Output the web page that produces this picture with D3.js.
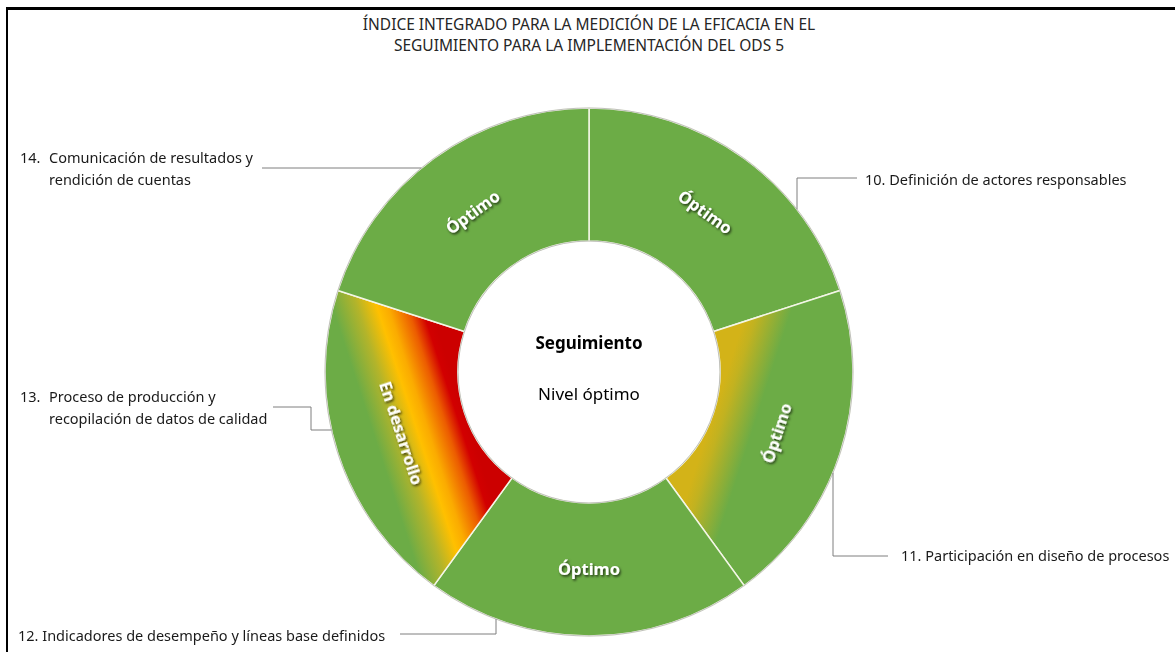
<!DOCTYPE html>
<html>
<head>
<meta charset="utf-8">
<script src="https://cdn.jsdelivr.net/npm/d3@7"></script>
<style>
  body { margin: 0; background: #fff; }
  text { font-family: "Noto Sans", sans-serif; }
</style>
</head>
<body>
<svg width="1175" height="652"></svg>
<script>
// data
var categories = [
  "10. Definición de actores responsables",
  "11. Participación en diseño de procesos",
  "12. Indicadores de desempeño y líneas base definidos",
  "13. Proceso de producción y\nrecopilación de datos de calidad",
  "14. Comunicación de resultados y\nrendición de cuentas"
];
var values = [1, 1, 1, 1, 1];
var levels = ["Óptimo", "Óptimo", "Óptimo", "En desarrollo", "Óptimo"];
var titleLines = [
  "ÍNDICE INTEGRADO PARA LA MEDICIÓN DE LA EFICACIA EN EL",
  "SEGUIMIENTO PARA LA IMPLEMENTACIÓN DEL ODS 5"
];
var centerTitle = "Seguimiento";
var centerSub = "Nivel óptimo";

var svg = d3.select("svg"),
    width = +svg.attr("width"),
    height = +svg.attr("height");

var cx = 589, cy = 372, R = 264, r = 131;
var green = "#6cac46";

// frame
svg.append("line").attr("x1", 6).attr("x2", width).attr("y1", 8.5).attr("y2", 8.5)
    .attr("stroke", "#000").attr("stroke-width", 3);
svg.append("line").attr("x1", 7).attr("x2", 7).attr("y1", 7).attr("y2", height)
    .attr("stroke", "#000").attr("stroke-width", 2);

// title
svg.append("g").selectAll("text")
  .data(titleLines)
  .enter().append("text")
    .attr("x", 589)
    .attr("y", function(d, i) { return 30 + i * 21; })
    .attr("text-anchor", "middle")
    .attr("font-size", "15.5px")
    .attr("fill", "#262626")
    .text(function(d) { return d; });

var pie = d3.pie().sort(null).value(function(d) { return d; });
var arcs = pie(values);
var arc = d3.arc().innerRadius(r).outerRadius(R);

var defs = svg.append("defs");
defs.append("filter").attr("id", "shadow")
    .attr("x", "-30%").attr("y", "-30%").attr("width", "160%").attr("height", "160%")
  .append("feDropShadow")
    .attr("dx", 1.3).attr("dy", 1.6).attr("stdDeviation", 1.2)
    .attr("flood-color", "#000").attr("flood-opacity", 0.7);

// colour ramps for the mixed segments (index -> direction + stops)
var tints = {
  1: { from: "inner", stops: [[0, "#d3b318"], [0.08, "#c2b220"], [0.32, green], [1, green]] },
  3: { from: "outer", stops: [[0, green], [0.3, green], [0.48, "#b3b42a"], [0.62, "#ffc000"],
                              [0.7, "#fbab00"], [0.84, "#ec5c00"], [0.94, "#d20000"], [1, "#cc0000"]] }
};

function fillFor(d, i) {
  var t = tints[i];
  if (!t) return green;
  var mid = (d.startAngle + d.endAngle) / 2,
      ux = Math.sin(mid), uy = -Math.cos(mid),
      a = t.from === "inner" ? r : R,
      b = t.from === "inner" ? R : r;
  var grad = defs.append("linearGradient")
      .attr("id", "grad" + i)
      .attr("gradientUnits", "userSpaceOnUse")
      .attr("x1", ux * a).attr("y1", uy * a)
      .attr("x2", ux * b).attr("y2", uy * b);
  grad.selectAll("stop").data(t.stops).enter().append("stop")
      .attr("offset", function(s) { return s[0]; })
      .attr("stop-color", function(s) { return s[1]; });
  return "url(#grad" + i + ")";
}

var g = svg.append("g").attr("transform", "translate(" + cx + "," + cy + ")");

g.selectAll("path.slice")
  .data(arcs)
  .enter().append("path")
    .attr("class", "slice")
    .attr("d", arc)
    .attr("fill", fillFor)
    .attr("stroke", "#f3f6e6")
    .attr("stroke-width", 1.5);

// thin grey rims
[R, r].forEach(function(rad) {
  g.append("circle").attr("r", rad).attr("fill", "none")
      .attr("stroke", "#b3b3b3").attr("stroke-width", 0.8);
});

// level labels inside segments
var labelArc = d3.arc().innerRadius((R + r) / 2).outerRadius((R + r) / 2);
g.append("g").attr("filter", "url(#shadow)")
  .selectAll("text")
  .data(arcs)
  .enter().append("text")
    .attr("transform", function(d) {
      var c = labelArc.centroid(d),
          deg = (d.startAngle + d.endAngle) / 2 * 180 / Math.PI;
      if (deg > 90 && deg < 270) deg -= 180;
      return "translate(" + c + ") rotate(" + deg + ")";
    })
    .attr("dy", "0.35em")
    .attr("text-anchor", "middle")
    .attr("font-size", "16.5px")
    .attr("font-weight", "bold")
    .attr("fill", "#fff")
    .text(function(d, i) { return levels[i]; });

// centre text
g.append("text").attr("y", -23).attr("text-anchor", "middle")
    .attr("font-size", "17px").attr("font-weight", "bold").attr("fill", "#000")
    .text(centerTitle);
g.append("text").attr("y", 28).attr("text-anchor", "middle")
    .attr("font-size", "17px").attr("fill", "#000")
    .text(centerSub);

// category labels with leader lines
var layout = [
  { x: 865, y: 185, pts: [[857, 178], [797, 178]], end: "v" },
  { x: 901, y: 561, pts: [[888, 556], [833, 556]], end: "v" },
  { x: 18,  y: 641, pts: [[400, 634], [496, 634]], end: "v" },
  { x: 20,  y: 402, pts: [[273, 407], [311, 407], [311, 430]], end: "h" },
  { x: 20,  y: 163, pts: [[262, 168]], end: "h" }
];

function edgePoint(p, mode) {
  var dx = p[0] - cx, dy = p[1] - cy;
  if (mode === "v") return [p[0], cy + Math.sign(dy) * Math.sqrt(R * R - dx * dx)];
  return [cx + Math.sign(dx) * Math.sqrt(R * R - dy * dy), p[1]];
}

var line = d3.line();
var lab = svg.append("g");
categories.forEach(function(name, i) {
  var L = layout[i];
  var pts = L.pts.slice();
  pts.push(edgePoint(pts[pts.length - 1], L.end));
  lab.append("path").attr("d", line(pts))
      .attr("fill", "none").attr("stroke", "#7f7f7f").attr("stroke-width", 1);

  var rows = name.split("\n");
  var t = lab.append("text").attr("font-size", "14.5px").attr("fill", "#1a1a1a");
  if (rows.length > 1) {
    var num = rows[0].slice(0, rows[0].indexOf(" ")),
        rest = rows[0].slice(rows[0].indexOf(" ") + 1);
    lab.append("text").attr("x", L.x).attr("y", L.y)
        .attr("font-size", "14.5px").attr("fill", "#1a1a1a").text(num);
    t.append("tspan").attr("x", L.x + 29).attr("y", L.y).text(rest);
    t.append("tspan").attr("x", L.x + 29).attr("y", L.y + 22).text(rows[1]);
  } else {
    t.attr("x", L.x).attr("y", L.y).text(name);
  }
});
</script>
</body>
</html>
